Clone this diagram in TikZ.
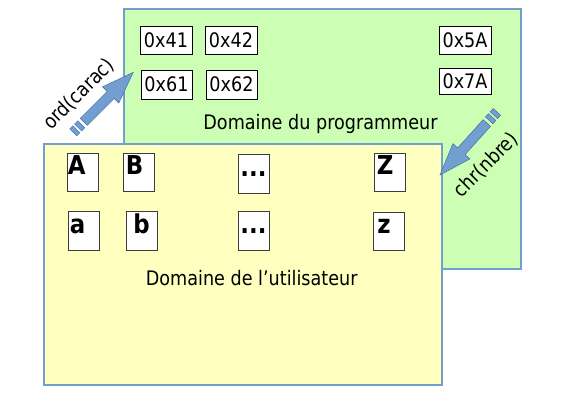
\documentclass[tikz,border=0pt]{standalone}
\usepackage{fontspec}
\setmainfont{DejaVu Sans}[FakeStretch=0.88]
\usetikzlibrary{calc}
\definecolor{frameblue}{RGB}{114,159,207}
\definecolor{arrowfill}{RGB}{114,159,207}
\definecolor{arrowline}{RGB}{52,101,164}
\definecolor{progfill}{RGB}{204,255,179}
\definecolor{userfill}{RGB}{255,255,192}
\definecolor{cellline}{RGB}{60,60,60}
\tikzset{
  domainbox/.style={draw=frameblue, line width=1.2pt, inner sep=0pt},
  hexbox/.style={draw=black, fill=white, line width=0.8pt, inner sep=0pt,
    font=\fontsize{20}{22}\selectfont},
  cellbox/.style={draw=cellline, fill=white, line width=0.9pt, inner sep=0pt,
    minimum width=31pt, minimum height=38.5pt},
  glyphtext/.style={inner sep=0pt, anchor=base west, font=\fontsize{26}{28}\selectfont\bfseries},
  dotstext/.style={inner sep=0pt, anchor=base, font=\fontsize{26}{28}\selectfont\bfseries},
  captiontext/.style={inner sep=0pt, anchor=base, font=\fontsize{20}{22}\selectfont},
  fatarrow/.style={fill=arrowfill, draw=arrowline, line width=0.4pt, line join=miter},
}
\begin{document}
\begin{tikzpicture}[x=1pt, y=-1pt]
\useasboundingbox (0,0) rectangle (564,400);
% programmer domain
\node[domainbox, fill=progfill, minimum width=397pt, minimum height=260pt] (prog) at (322.5,139) {};
\node[hexbox, minimum width=52pt, minimum height=28pt] (h41) at (166,40) {0x41};
\node[hexbox, minimum width=52pt, minimum height=28pt] (h42) at (231,40) {0x42};
\node[hexbox, minimum width=52pt, minimum height=28pt] (h5A) at (465,40) {0x5A};
\node[hexbox, minimum width=51pt, minimum height=29pt] (h61) at (166.5,84.5) {0x61};
\node[hexbox, minimum width=51pt, minimum height=29pt] (h62) at (231.5,84.5) {0x62};
\node[hexbox, minimum width=52pt, minimum height=26pt] (h7A) at (465,81) {0x7A};
\node[captiontext] (progtxt) at (320.5,129.3) {Domaine du programmeur};
% user domain
\node[domainbox, fill=userfill, minimum width=398pt, minimum height=241pt] (user) at (243,264.5) {};
\node[cellbox] (cA) at (82.5,172.5) {};
\node[cellbox] (cB) at (139,172.5) {};
\node[cellbox] (cD1) at (253.5,174) {};
\node[cellbox] (cZ) at (390,172.5) {};
\node[cellbox] (ca) at (83.5,231) {};
\node[cellbox] (cb) at (142,231) {};
\node[cellbox] (cD2) at (253.5,231) {};
\node[cellbox] (cz) at (389,231.5) {};
\node[glyphtext] (tA) at ($(cA.north west)+(1,21.5)$) {A};
\node[glyphtext] (tB) at ($(cB.north west)+(2.5,21.5)$) {B};
\node[dotstext] (tD1) at ($(cD1.north)+(0,21.7)$) {...};
\node[glyphtext] (tZ) at ($(cZ.north west)+(2.5,21.5)$) {Z};
\node[glyphtext] (ta) at ($(ca.north west)+(2.2,22.5)$) {a};
\node[glyphtext] (tb) at ($(cb.north west)+(7,22.5)$) {b};
\node[dotstext] (tD2) at ($(cD2.north)+(0,22.5)$) {...};
\node[glyphtext] (tz) at ($(cz.north west)+(4,22)$) {z};
\node[captiontext] (usertxt) at (251.7,285.7) {Domaine de l’utilisateur};
% arrows
\coordinate (ordtip) at (133.3,72.3);
\coordinate (chrtip) at (440,175);
\foreach \tip/\ang in {ordtip/45, chrtip/228}{
  \begin{scope}[shift={(\tip)}, rotate=\ang]
    \draw[fatarrow] (0,0) -- (-32,11.5) -- (-32,5) -- (-70,5) -- (-70,-5) -- (-32,-5) -- (-32,-11.5) -- cycle;
    \draw[fatarrow] (-73.5,5) rectangle (-78,-5);
    \draw[fatarrow] (-80.5,5) rectangle (-85,-5);
  \end{scope}
}
\node[captiontext, anchor=center, rotate=45] (ordtxt) at (79,94) {ord(carac)};
\node[captiontext, anchor=center, rotate=45] (chrtxt) at (486,165) {chr(nbre)};
\end{tikzpicture}
\end{document}
